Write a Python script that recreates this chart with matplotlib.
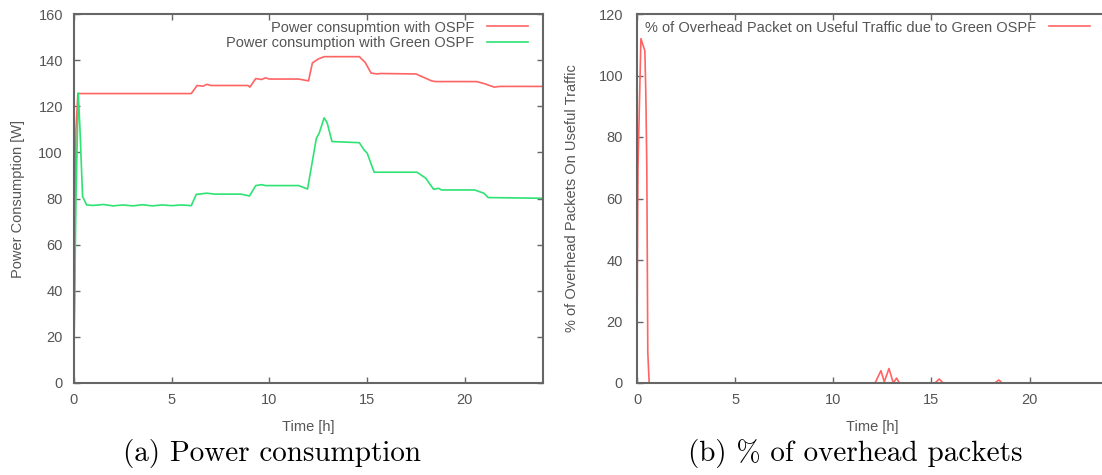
import numpy as np
import matplotlib
matplotlib.use("Agg")
import matplotlib.pyplot as plt

# power consumption, OSPF (red) and Green OSPF (green)
t_ospf = [0.0, 0.1, 0.2, 6.0, 6.3, 6.6, 6.8, 7.0, 8.9, 9.0, 9.3, 9.6, 9.8, 10.0, 11.5, 12.0, 12.2, 12.5, 12.8,
          14.6, 14.9, 15.2, 15.5, 15.7, 17.5, 17.9, 18.3, 18.5, 20.6, 21.0, 21.5, 21.8, 24.0]
p_ospf = [15, 110, 125.5, 125.5, 129.0, 128.7, 129.5, 129.0, 129.0, 128.3, 132.0, 131.6, 132.3, 131.8, 131.8, 131.0,
          138.8, 140.5, 141.5, 141.5, 139.0, 134.4, 134.0, 134.2, 134.0, 132.5, 131.0, 130.7, 130.7, 129.8, 128.3, 128.6, 128.6]

t_green = [0.0, 0.05, 0.1, 0.22, 0.3, 0.44, 0.65, 1.0, 1.5, 2.0, 2.5, 3.0, 3.5, 4.0, 4.5, 5.0, 5.5, 6.0, 6.26, 6.8,
           7.2, 8.55, 8.98, 9.3, 9.6, 9.8, 11.5, 11.95, 12.4, 12.55, 12.8, 12.96, 13.2, 14.6, 14.85, 15.0, 15.36,
           17.55, 18.0, 18.4, 18.67, 18.8, 20.5, 20.97, 21.2, 24.0]
p_green = [15, 47, 80, 125.7, 111, 80.8, 77.2, 77.0, 77.4, 76.8, 77.2, 76.8, 77.3, 76.8, 77.2, 76.9, 77.2, 76.9, 81.8, 82.3,
           81.9, 81.9, 81.1, 85.6, 86.0, 85.6, 85.6, 84.1, 106.0, 108.4, 115.0, 112.7, 104.7, 104.2, 101.0, 99.7, 91.4,
           91.4, 88.8, 84.0, 84.4, 83.7, 83.7, 82.3, 80.4, 80.1]

# % of overhead packets on useful traffic
t_over = [0.0, 0.02, 0.05, 0.2, 0.4, 0.45, 0.5, 0.55, 0.62, 12.13, 12.43, 12.6, 12.84, 13.06, 13.23, 13.37,
          15.18, 15.4, 15.6, 18.23, 18.44, 18.6, 24.0]
v_over = [14, 40, 70, 112, 108, 94, 70, 10, 0, 0, 4.0, 0.4, 4.7, 0, 1.6, 0,
          0, 1.3, 0, 0, 1.0, 0, 0]

RED = '#ff6464'
GREEN = '#2ee273'
GRAY = '#555555'

plt.rcParams['font.family'] = ['Liberation Sans', 'DejaVu Sans']

fig = plt.figure(figsize=(11.02, 4.75), dpi=100)
W, H = 1102, 475
ax1 = fig.add_axes([74 / W, 1 - 383 / H, 469 / W, 369 / H])
ax2 = fig.add_axes([637 / W, 1 - 383 / H, 471 / W, 369 / H])


def gnuplot_style(ax, ypad):
    for s in ax.spines.values():
        s.set_color('#666666')
        s.set_linewidth(1.5)
        s.set_zorder(5)
    ax.tick_params(direction='in', top=True, right=True, length=4, width=1,
                   color='#666666', labelcolor=GRAY, labelsize=10.5)
    ax.tick_params(axis='y', pad=ypad)
    ax.tick_params(axis='x', pad=7)
    ax.set_xlim(0, 24)
    ax.set_xticks([0, 5, 10, 15, 20])


ax1.plot(t_ospf, p_ospf, color=RED, lw=1.2, label='Power consupmtion with OSPF')
ax1.plot(t_green, p_green, color=GREEN, lw=1.2, label='Power consumption with Green OSPF')
gnuplot_style(ax1, 8)
ax1.set_ylim(0, 160)
ax1.set_yticks(range(0, 161, 20))
ax1.set_xlabel('Time [h]', color=GRAY, fontsize=10.5)
ax1.set_ylabel('Power Consumption [W]', color=GRAY, fontsize=10.5)
ax1.xaxis.set_label_coords(0.5, -0.1)
ax1.yaxis.set_label_coords(-0.105, 0.5)
ax1.legend(loc='upper right', bbox_to_anchor=(0.99, 1.01), frameon=False, markerfirst=False,
           fontsize=10.5, labelcolor=GRAY, handlelength=2.8, handletextpad=0.9, labelspacing=0.1,
           borderaxespad=0.3)

ax2.plot(t_over, v_over, color=RED, lw=1.2,
         label='% of Overhead Packet on Useful Traffic due to Green OSPF')
gnuplot_style(ax2, 10)
ax2.tick_params(right=False)
ax2.set_ylim(0, 120)
ax2.set_yticks(range(0, 121, 20))
ax2.set_xlabel('Time [h]', color=GRAY, fontsize=10.5)
ax2.set_ylabel('% of Overhead Packets On Useful Traffic', color=GRAY, fontsize=10.5)
ax2.xaxis.set_label_coords(0.5, -0.1)
ax2.yaxis.set_label_coords(-0.124, 0.5)
ax2.legend(loc='upper left', bbox_to_anchor=(-0.005, 1.01), frameon=False, markerfirst=False,
           fontsize=10.5, labelcolor=GRAY, handlelength=2.8, handletextpad=0.9, borderaxespad=0.3)

fig.text(272 / W, 1 - 453 / H, '(a) Power consumption', family='cmr10', fontsize=21,
         ha='center', va='center')
fig.text(855 / W, 1 - 453 / H, '(b) % of overhead packets', family='cmr10', fontsize=21,
         ha='center', va='center')

fig.savefig('out.png', dpi=100)
